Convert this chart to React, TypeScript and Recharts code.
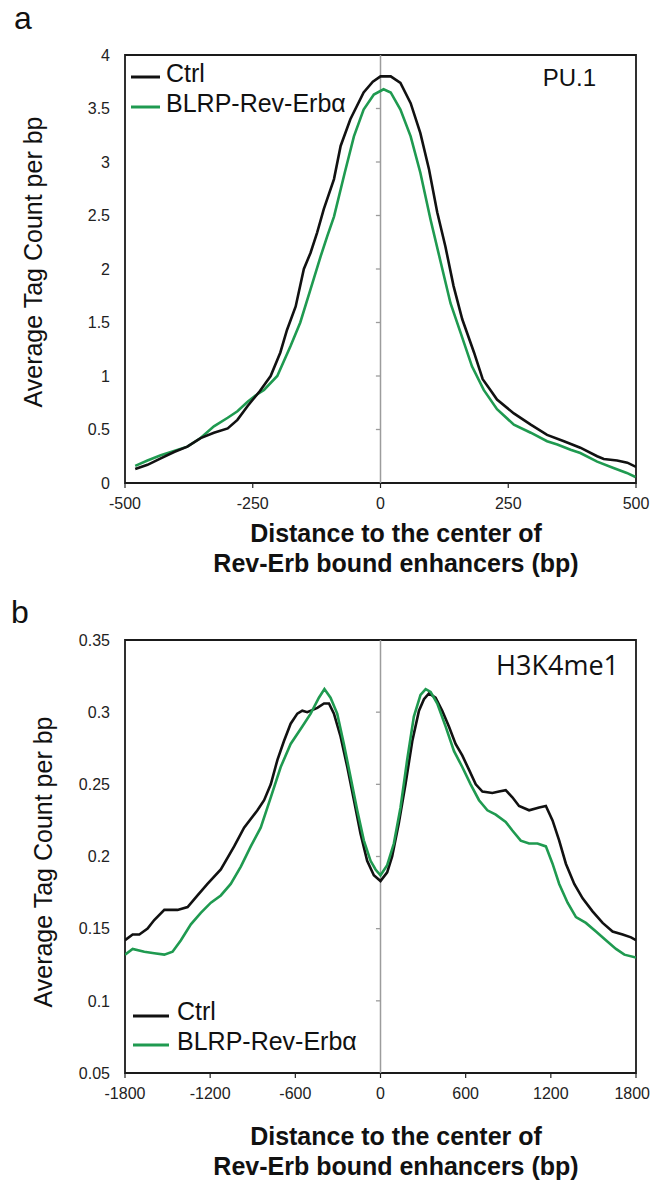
import React from "react";
import { LineChart, Line, XAxis, YAxis, ReferenceLine, ReferenceArea, Legend } from "recharts";

// ---------- Panel a: PU.1 ----------
const puTicksX = [-500, -250, 0, 250, 500];
const puTicksY = [0, 0.5, 1, 1.5, 2, 2.5, 3, 3.5, 4];
const puCtrlDist = [-480, -456, -430, -404, -378, -352, -326, -299, -280, -260, -236, -215, -196, -183, -166, -150, -137, -124, -111, -91, -78, -59, -33, -15, 0, 20, 39, 59, 78, 95, 111, 127, 143, 160, 183, 200, 215, 228, 261, 294, 326, 359, 391, 424, 437, 463, 483, 500];
const puCtrlTag = [0.13, 0.17, 0.23, 0.29, 0.34, 0.42, 0.47, 0.51, 0.59, 0.72, 0.86, 1.0, 1.22, 1.43, 1.65, 2.0, 2.15, 2.34, 2.56, 2.84, 3.15, 3.4, 3.65, 3.75, 3.8, 3.8, 3.74, 3.55, 3.27, 2.93, 2.53, 2.21, 1.84, 1.53, 1.22, 0.97, 0.87, 0.78, 0.65, 0.545, 0.45, 0.39, 0.33, 0.25, 0.225, 0.21, 0.19, 0.15];
const puRevDist = [-480, -456, -430, -404, -378, -352, -326, -299, -280, -260, -241, -228, -202, -176, -157, -137, -117, -104, -91, -70, -52, -33, -13, 6, 20, 39, 59, 78, 98, 117, 137, 157, 179, 202, 228, 261, 294, 326, 346, 372, 391, 424, 456, 482, 499];
const puRevTag = [0.16, 0.21, 0.26, 0.3, 0.34, 0.42, 0.53, 0.61, 0.67, 0.76, 0.83, 0.87, 1.0, 1.28, 1.5, 1.81, 2.12, 2.31, 2.49, 2.9, 3.24, 3.49, 3.63, 3.68, 3.65, 3.49, 3.24, 2.9, 2.46, 2.08, 1.68, 1.4, 1.09, 0.87, 0.69, 0.545, 0.47, 0.39, 0.36, 0.31, 0.28, 0.2, 0.14, 0.094, 0.056];

// ---------- Panel b: H3K4me1 ----------
const h3TicksX = [-1800, -1200, -600, 0, 600, 1200, 1800];
const h3TicksY = [0.05, 0.1, 0.15, 0.2, 0.25, 0.3, 0.35];
const h3CtrlDist = [-1800, -1746, -1699, -1641, -1594, -1523, -1430, -1359, -1289, -1219, -1125, -1031, -961, -867, -820, -773, -726, -680, -633, -586, -551, -516, -445, -398, -363, -328, -281, -234, -187, -141, -94, -47, 0, 47, 82, 129, 176, 224, 271, 306, 341, 388, 435, 482, 529, 576, 624, 671, 718, 788, 835, 882, 929, 976, 1047, 1118, 1165, 1212, 1259, 1306, 1365, 1424, 1494, 1565, 1635, 1706, 1765, 1800];
const h3CtrlTag = [0.142, 0.146, 0.146, 0.15, 0.156, 0.163, 0.163, 0.165, 0.173, 0.181, 0.191, 0.207, 0.22, 0.232, 0.239, 0.25, 0.267, 0.28, 0.292, 0.299, 0.301, 0.3, 0.303, 0.306, 0.306, 0.299, 0.283, 0.262, 0.239, 0.216, 0.197, 0.187, 0.183, 0.189, 0.2, 0.223, 0.25, 0.28, 0.301, 0.309, 0.313, 0.31, 0.301, 0.29, 0.278, 0.27, 0.26, 0.25, 0.245, 0.244, 0.245, 0.246, 0.241, 0.235, 0.232, 0.234, 0.235, 0.225, 0.211, 0.195, 0.181, 0.171, 0.162, 0.154, 0.148, 0.146, 0.144, 0.142];
const h3RevDist = [-1800, -1746, -1664, -1594, -1523, -1465, -1406, -1336, -1266, -1195, -1125, -1055, -984, -914, -844, -773, -703, -633, -551, -492, -434, -395, -352, -305, -258, -211, -164, -117, -70, -35, 0, 47, 94, 141, 188, 235, 282, 318, 353, 400, 459, 518, 576, 635, 694, 753, 812, 882, 929, 988, 1047, 1106, 1165, 1212, 1259, 1318, 1377, 1447, 1518, 1588, 1659, 1718, 1800];
const h3RevTag = [0.132, 0.136, 0.134, 0.133, 0.132, 0.134, 0.142, 0.153, 0.161, 0.168, 0.173, 0.181, 0.193, 0.207, 0.22, 0.241, 0.262, 0.278, 0.29, 0.299, 0.31, 0.316, 0.31, 0.299, 0.278, 0.255, 0.232, 0.211, 0.197, 0.191, 0.187, 0.194, 0.209, 0.234, 0.267, 0.297, 0.312, 0.316, 0.314, 0.306, 0.29, 0.273, 0.262, 0.25, 0.239, 0.232, 0.229, 0.224, 0.218, 0.211, 0.209, 0.209, 0.207, 0.195, 0.181, 0.168, 0.158, 0.154, 0.148, 0.142, 0.136, 0.132, 0.13];

const seriesNames = ["Ctrl", "BLRP-Rev-Erbα"];
const BLACK = "#111111";
const GREEN = "#1f9a50";
const GREY = "#9c9c9c";
const FONT = '"Liberation Sans", Arial, Helvetica, sans-serif';
const TICK_FS = 16;

const zip = (xs: number[], ys: number[]) => xs.map((x, i) => ({ x, y: ys[i] }));
const fmt = (v: number) => String(Number(v.toFixed(2)));

// x tick label that stays inside the 651px page
const XTick = (props: any) => {
  const label = fmt(props.payload.value);
  const half = (label.length * 0.556 * TICK_FS) / 2;
  const x = Math.min(props.x, 650 - half);
  return (
    <text x={x} y={props.y} dy="0.71em" textAnchor="middle" fontSize={TICK_FS} fontFamily={FONT} fill="#222">
      {label}
    </text>
  );
};

type LegendCfg = { left: number; top: number; x1: number; x2: number; tx: number; rows: number[]; base: number[] };

function makeLegend(cfg: LegendCfg) {
  return (props: any) => {
    const payload = [...(props.payload || [])].sort(
      (a: any, b: any) => seriesNames.indexOf(a.value) - seriesNames.indexOf(b.value)
    );
    return (
      <svg width={280} height={70} style={{ overflow: "visible", display: "block" }}>
        {payload.map((p: any, i: number) => (
          <g key={p.value}>
            <line x1={cfg.x1} x2={cfg.x2} y1={cfg.rows[i]} y2={cfg.rows[i]} stroke={p.color} strokeWidth={3} />
            <text x={cfg.tx} y={cfg.base[i]} fontSize={25} fontFamily={FONT} fill="#111">
              {p.value}
            </text>
          </g>
        ))}
      </svg>
    );
  };
}

type PanelProps = {
  top: number;
  height: number;
  margin: { top: number; right: number; bottom: number; left: number };
  xDomain: [number, number];
  xTicks: number[];
  yDomain: [number, number];
  yTicks: number[];
  ctrl: { x: number; y: number }[];
  rev: { x: number; y: number }[];
  tickLen: number;
  legend: LegendCfg;
  greenOnTop: boolean;
};

function Panel(p: PanelProps) {
  const ctrlLine = (
    <Line key="c" data={p.ctrl} dataKey="y" name={seriesNames[0]} type="linear" stroke={BLACK} strokeWidth={2.6} dot={false} isAnimationActive={false} />
  );
  const revLine = (
    <Line key="r" data={p.rev} dataKey="y" name={seriesNames[1]} type="linear" stroke={GREEN} strokeWidth={2.6} dot={false} isAnimationActive={false} />
  );
  return (
    <div style={{ position: "absolute", left: 0, top: p.top }}>
      <LineChart width={651} height={p.height} margin={p.margin}>
        <XAxis
          type="number"
          dataKey="x"
          domain={p.xDomain}
          ticks={p.xTicks}
          interval={0}
          allowDataOverflow
          axisLine={false}
          tickLine={{ stroke: "#222", strokeWidth: 1.2 }}
          tickSize={5}
          tickMargin={10}
          height={30}
          tick={<XTick />}
        />
        <YAxis
          type="number"
          domain={p.yDomain}
          ticks={p.yTicks}
          interval={0}
          allowDataOverflow
          axisLine={false}
          tickLine={false}
          tickSize={0}
          tickMargin={15}
          width={60}
          tickFormatter={fmt}
          tick={{ fontSize: TICK_FS, fill: "#222", fontFamily: FONT }}
        />
        <ReferenceLine x={0} stroke={GREY} strokeWidth={1.5} />
        {p.yTicks
          .filter((t) => t > p.yDomain[0] && t < p.yDomain[1])
          .map((t) => (
            <ReferenceLine
              key={"t" + t}
              segment={[
                { x: -p.tickLen, y: t },
                { x: 0, y: t },
              ]}
              stroke={GREY}
              strokeWidth={1.3}
            />
          ))}
        {p.greenOnTop ? [ctrlLine, revLine] : [revLine, ctrlLine]}
        <ReferenceArea
          x1={p.xDomain[0]}
          x2={p.xDomain[1]}
          y1={p.yDomain[0]}
          y2={p.yDomain[1]}
          fill="none"
          stroke="#1a1a1a"
          strokeWidth={1.8}
          ifOverflow="visible"
        />
        <Legend
          layout="vertical"
          align="center"
          verticalAlign="middle"
          content={makeLegend(p.legend)}
          wrapperStyle={{ left: p.legend.left, top: p.legend.top, width: 280, height: 70 }}
        />
      </LineChart>
    </div>
  );
}

export default function App() {
  return (
    <div style={{ position: "absolute", left: 0, top: 0, width: 651, height: 1181, background: "#fff", overflow: "hidden" }}>
      <Panel
        top={0}
        height={600}
        margin={{ top: 55, right: 15, bottom: 87, left: 65 }}
        xDomain={[-500, 500]}
        xTicks={puTicksX}
        yDomain={[0, 4]}
        yTicks={puTicksY}
        ctrl={zip(puCtrlDist, puCtrlTag)}
        rev={zip(puRevDist, puRevTag)}
        tickLen={9}
        greenOnTop={false}
        legend={{ left: 125, top: 55, x1: 6, x2: 35, tx: 41, rows: [22, 52], base: [27, 57] }}
      />
      <Panel
        top={590}
        height={591}
        margin={{ top: 50, right: 15, bottom: 78, left: 65 }}
        xDomain={[-1800, 1800]}
        xTicks={h3TicksX}
        yDomain={[0.05, 0.35]}
        yTicks={h3TicksY}
        ctrl={zip(h3CtrlDist, h3CtrlTag)}
        rev={zip(h3RevDist, h3RevTag)}
        tickLen={32}
        greenOnTop={true}
        legend={{ left: 125, top: 410, x1: 8, x2: 44, tx: 52, rows: [16, 45], base: [20, 50] }}
      />
      <svg width={651} height={1181} style={{ position: "absolute", left: 0, top: 0, pointerEvents: "none" }}>
        <g fontFamily={FONT} fill="#111">
          <text x={14} y={29} fontSize={32}>a</text>
          <text x={11} y={623} fontSize={32}>b</text>
          <text x={596} y={86} fontSize={24} textAnchor="end">PU.1</text>
          <text x={619} y={675} fontSize={27} textAnchor="end" fontFamily='"Open Sans", sans-serif'>H3K4me1</text>
          <text x={396} y={542} fontSize={25} fontWeight="bold" textAnchor="middle">Distance to the center of</text>
          <text x={396} y={572} fontSize={25} fontWeight="bold" textAnchor="middle">Rev-Erb bound enhancers (bp)</text>
          <text x={396} y={1145} fontSize={25} fontWeight="bold" textAnchor="middle">Distance to the center of</text>
          <text x={396} y={1175} fontSize={25} fontWeight="bold" textAnchor="middle">Rev-Erb bound enhancers (bp)</text>
          <text x={42} y={262} fontSize={25} textAnchor="middle" transform="rotate(-90 42 262)">Average Tag Count per bp</text>
          <text x={52} y={862} fontSize={25} textAnchor="middle" transform="rotate(-90 52 862)">Average Tag Count per bp</text>
        </g>
      </svg>
    </div>
  );
}
